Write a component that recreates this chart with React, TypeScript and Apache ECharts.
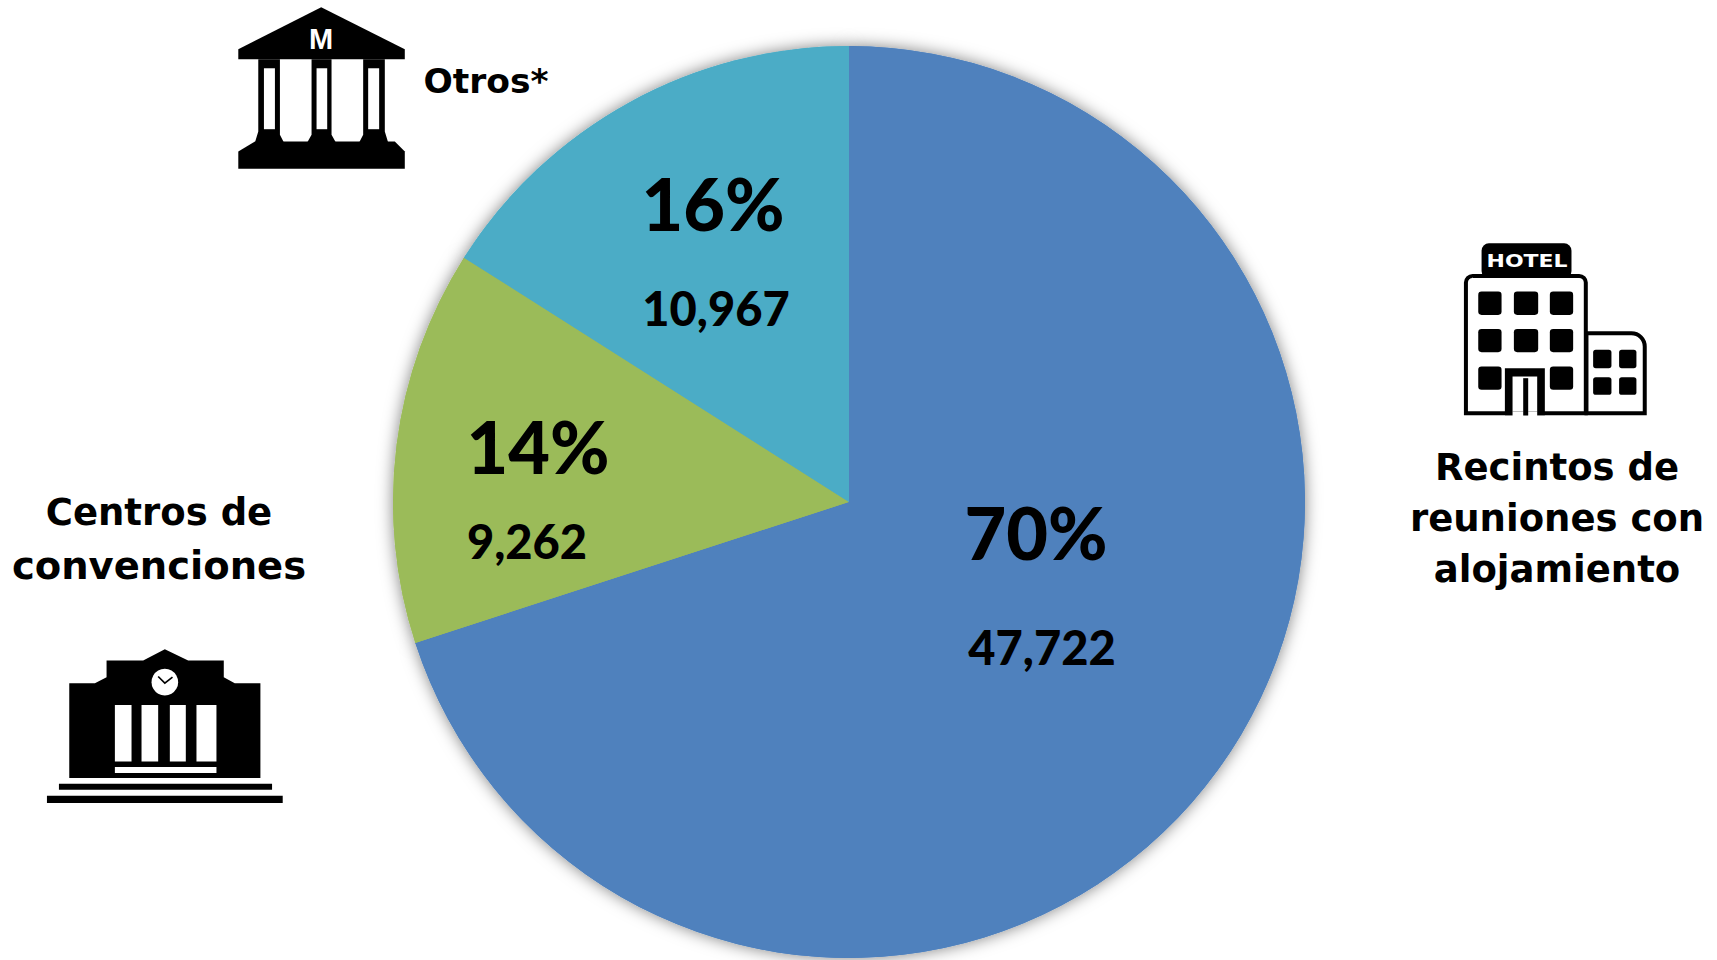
import React, { useEffect, useRef } from "react";
import * as echarts from "echarts";

const categories = ["Recintos de reuniones con alojamiento", "Centros de convenciones", "Otros*"];
const sharePercents = [70, 14, 16];
const seriesValues = [47722, 9262, 10967];
const sliceColors = ["#4F81BD", "#9BBB59", "#4BACC6"];
const hotelLines = ["Recintos de", "reuniones con", "alojamiento"];
const centrosLines = ["Centros de", "convenciones"];
const otrosLines = ["Otros*"];

const percentPos = [[1036, 532], [538, 446], [713, 203]];
const valuePos = [[1042, 647], [527, 541], [716, 308]];

const FONT = "'DejaVu Sans'";
const LABEL_FONT = "Lato";
const NAME_SIZE = 37;

const r = (x: number, y: number, x2: number, y2: number, fill = "#000", rad = 0) => ({
  type: "rect", shape: { x, y, width: x2 - x, height: y2 - y, r: rad }, style: { fill },
});
const poly = (points: number[][], fill = "#000") => ({ type: "polygon", shape: { points }, style: { fill } });

const museum = () => ({
  type: "group", x: 200, y: 0, scaleX: 1 / 3, scaleY: 1 / 3,
  children: [
    poly([[364, 22], [115, 148], [115, 178], [615, 178], [615, 148]]),
    poly([[115, 455], [165, 425], [585, 425], [615, 455], [615, 507], [115, 507]]),
    poly([[175, 178], [240, 178], [240, 405], [252, 428], [165, 428], [175, 395]]),
    poly([[335, 178], [395, 178], [395, 405], [408, 428], [322, 428], [335, 405]]),
    poly([[490, 178], [555, 178], [555, 395], [565, 428], [478, 428], [490, 405]]),
    r(192, 205, 225, 388, "#fff"),
    r(350, 205, 382, 388, "#fff"),
    r(505, 205, 538, 388, "#fff"),
  ],
});

const centre = () => ({
  type: "group", x: 0, y: 480, scaleX: 1 / 3, scaleY: 1 / 3,
  children: [
    poly([[208, 895], [208, 610], [285, 610], [320, 592], [320, 542], [430, 542], [495, 508], [565, 542], [672, 542], [672, 592], [705, 610], [782, 610], [782, 895]]),
    r(345, 676, 395, 845, "#fff"),
    r(425, 676, 475, 845, "#fff"),
    r(510, 676, 558, 845, "#fff"),
    r(590, 676, 650, 845, "#fff"),
    r(345, 862, 650, 880, "#fff"),
    { type: "circle", shape: { cx: 495, cy: 607, r: 40 }, style: { fill: "#fff" } },
    { type: "polyline", shape: { points: [[475, 590], [495, 610], [518, 592]] }, style: { stroke: "#000", lineWidth: 5, fill: "none" } },
    r(177, 912, 817, 930),
    r(141, 948, 849, 970),
  ],
});

const hotel = () => {
  const wins: any[] = [];
  [[265, 335], [372, 445], [480, 550]].forEach(([a, b], i) =>
    [[215, 285], [327, 397], [440, 510]].forEach(([c, d], j) => {
      if (!(i === 1 && j === 2)) wins.push(r(a, c, b, d, "#000", 10));
    })
  );
  [[610, 665], [688, 740]].forEach(([a, b]) =>
    [[390, 445], [472, 525]].forEach(([c, d]) => wins.push(r(a, c, b, d, "#000", 8)))
  );
  return {
    type: "group", x: 1390, y: 220, scaleX: 1 / 3, scaleY: 1 / 3,
    children: [
      r(275, 70, 545, 175, "#000", 22),
      { type: "rect", shape: { x: 590, y: 340, width: 175, height: 240, r: [0, 40, 0, 0] }, style: { fill: "#fff", stroke: "#000", lineWidth: 12 } },
      { type: "rect", shape: { x: 228, y: 168, width: 360, height: 412, r: [20, 20, 0, 0] }, style: { fill: "#fff", stroke: "#000", lineWidth: 12 } },
      ...wins,
      r(345, 445, 465, 586),
      r(368, 470, 442, 575, "#fff"),
      r(400, 475, 415, 586),
      r(368, 575, 400, 590, "#fff"),
      r(415, 575, 442, 590, "#fff"),
    ],
  };
};

const nameText = (text: string, x: number, y: number, size = NAME_SIZE) => ({
  type: "text", x, y,
  style: { text, font: `bold ${size}px ${FONT}`, fill: "#000", align: "center", verticalAlign: "middle" },
});

export default function App() {
  const ref = useRef<HTMLDivElement>(null);
  useEffect(() => {
    const chart = echarts.init(ref.current!, null, { renderer: "svg" });
    const data = categories.map((name, i) => ({ name, value: sharePercents[i], itemStyle: { color: sliceColors[i] } }));
    const base = { type: "pie", center: [849, 502], radius: [0, 456], startAngle: 90, clockwise: true, silent: true, avoidLabelOverlap: false, labelLine: { show: false } };
    chart.setOption({
      animation: false,
      backgroundColor: "#fff",
      tooltip: { show: false },
      series: [
        {
          ...base, data,
          itemStyle: { shadowBlur: 16, shadowColor: "rgba(0,0,0,0.5)" },
          label: { show: false },
        },
        {
          ...base, data, percentPrecision: 0,
          label: { show: true, position: "inside", formatter: "{d}%", fontFamily: LABEL_FONT, fontWeight: 900, fontSize: 72, color: "#000" },
          labelLayout: (p: any) => ({ x: percentPos[p.dataIndex][0], y: percentPos[p.dataIndex][1], align: "center", verticalAlign: "middle" }),
        },
        {
          ...base, data: data.map((d) => ({ ...d, itemStyle: { color: "transparent" } })),
          label: { show: true, position: "inside", formatter: (p: any) => seriesValues[p.dataIndex].toLocaleString("en-US"), fontFamily: LABEL_FONT, fontWeight: 900, fontSize: 47, color: "#000" },
          labelLayout: (p: any) => ({ x: valuePos[p.dataIndex][0], y: valuePos[p.dataIndex][1], align: "center", verticalAlign: "middle" }),
        },
      ],
      graphic: [
        museum(), centre(), hotel(),
        { type: "text", x: 321, y: 39, style: { text: "M", font: "bold 29px 'Liberation Sans'", fill: "#fff", align: "center", verticalAlign: "middle" } },
        { type: "text", x: 1527, y: 261, scaleX: 1.22, originX: 0, style: { text: "HOTEL", font: "bold 18px 'DejaVu Sans'", fill: "#fff", align: "center", verticalAlign: "middle" } },
        nameText(otrosLines[0], 486, 81, 34.5),
        nameText(centrosLines[0], 159, 512),
        nameText(centrosLines[1], 159, 565, 38.5),
        nameText(hotelLines[0], 1557, 467),
        nameText(hotelLines[1], 1557, 518),
        nameText(hotelLines[2], 1557, 569),
      ],
    });
    return () => chart.dispose();
  }, []);
  return (
    <div style={{ position: "fixed", left: 0, top: 0, width: 1717, height: 960, background: "#fff", overflow: "hidden" }}>
      <div ref={ref} style={{ width: 1717, height: 960 }} />
    </div>
  );
}
